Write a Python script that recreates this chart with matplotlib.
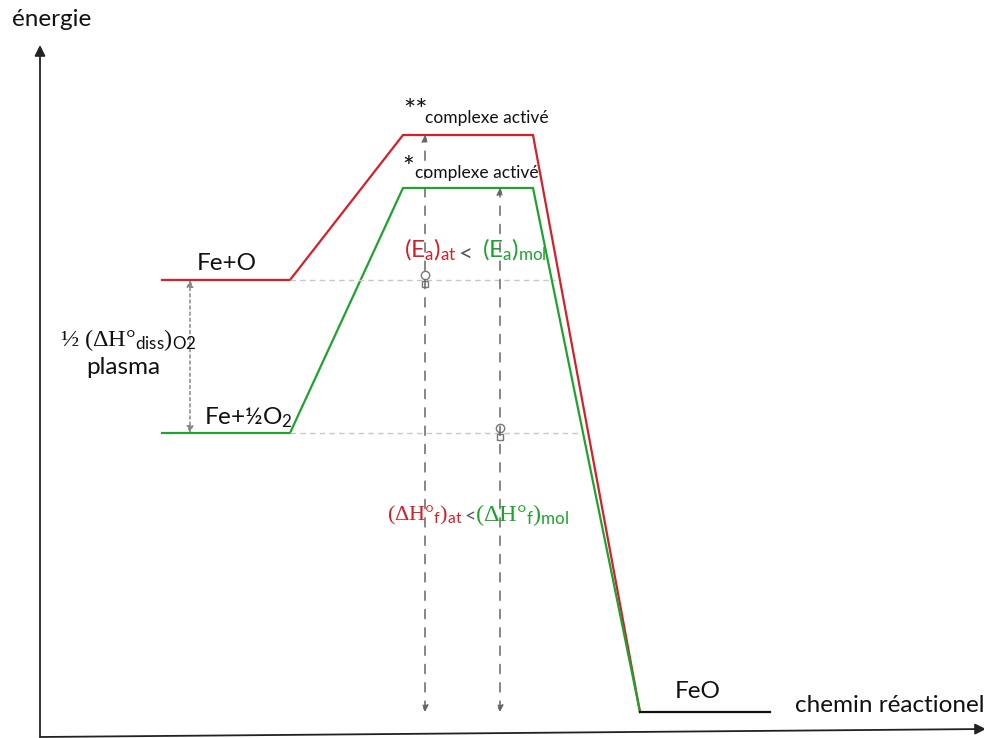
import matplotlib
matplotlib.use("Agg")
import matplotlib.pyplot as plt

plt.rcParams['font.family'] = ['Lato', 'DejaVu Sans']
plt.rcParams['mathtext.fontset'] = 'custom'
plt.rcParams['mathtext.rm'] = 'Liberation Serif'
plt.rcParams['mathtext.sf'] = 'Lato'
plt.rcParams['mathtext.it'] = 'Liberation Serif:italic'

# reaction coordinate of path points
path_x = [162, 290, 403, 533, 640]
# energies (arbitrary units, FeO = 0)
E_atomic = [432, 432, 577, 577, 0]      # Fe + O path (red)
E_molecular = [279, 279, 524, 524, 0]   # Fe + 1/2 O2 path (green)
product_x = [640, 770]
E_product = [0, 0]

RED = '#d4202a'
GREEN = '#1fa22e'
GRAY = '#666666'
LGRAY = '#c8c8c8'
DARK = '#111111'
FS = 17.5

fig = plt.figure(figsize=(9.84, 7.38), dpi=100)
ax = fig.add_axes([0, 0, 1, 1])
ax.set_xlim(0, 984)
ax.set_ylim(712 - 738, 712)
ax.axis('off')

# axes arrows
ax.annotate('', xy=(40, 712 - 45), xytext=(40, 712 - 737), annotation_clip=False,
            arrowprops=dict(arrowstyle='-|>', color='#222222', lw=1.3, mutation_scale=16, shrinkA=0, shrinkB=0))
ax.annotate('', xy=(986, 712 - 729), xytext=(40, 712 - 737), annotation_clip=False,
            arrowprops=dict(arrowstyle='-|>', color='#222222', lw=1.3, mutation_scale=16, shrinkA=0, shrinkB=0))

# paths
ax.plot(path_x, E_atomic, color=RED, lw=1.6, solid_joinstyle='miter')
ax.plot(path_x, E_molecular, color=GREEN, lw=1.6, solid_joinstyle='miter')
ax.plot(product_x, E_product, color=DARK, lw=1.6)

# light gray horizontal references
ax.plot([290, 555], [E_atomic[0], E_atomic[0]], color=LGRAY, lw=1, ls=(0, (4, 3)))
ax.plot([290, 580], [E_molecular[0], E_molecular[0]], color=LGRAY, lw=1, ls=(0, (4, 3)))

# dissociation double arrow
ax.annotate('', xy=(190, E_atomic[0]), xytext=(190, E_molecular[0]),
            arrowprops=dict(arrowstyle='<|-|>', color='#888888', lw=1.1, ls=(0, (2, 2)),
                            mutation_scale=10, shrinkA=0, shrinkB=0))

# vertical dashed double arrows (activation / formation)
for xv, top in [(425, E_atomic[2]), (500, E_molecular[2])]:
    ax.annotate('', xy=(xv, top), xytext=(xv, E_product[0]),
                arrowprops=dict(arrowstyle='<|-|>', color=GRAY, lw=1.1, ls=(0, (6, 6)),
                                mutation_scale=10, shrinkA=0, shrinkB=0))

# small markers at starting levels
for xv, lvl in [(425, E_atomic[0]), (500, E_molecular[0])]:
    ax.plot([xv], [lvl + 5], marker='o', ms=6, mfc='white', mec='#777777', mew=1)
    ax.plot([xv], [lvl - 4], marker='s', ms=5, mfc='white', mec='#777777', mew=1)

# labels
ax.text(12, 712 - 20, 'énergie', fontsize=FS, va='center', ha='left', color=DARK)
ax.text(795, 712 - 705, 'chemin réactionel', fontsize=FS, va='center', ha='left', color=DARK)
ax.text(675, 712 - 692, 'FeO', fontsize=FS, va='center', ha='left', color=DARK)
ax.text(197, 712 - 264, 'Fe+O', fontsize=FS, va='center', ha='left', color=DARK)
ax.text(204, 712 - 418, r'Fe+½O$_\mathsf{2}$', fontsize=FS, va='center', ha='left', color=DARK)

ax.text(60, 712 - 340, r'$\mathrm{½\ (\Delta H°}_{\mathsf{diss}}\mathrm{)}_{\mathsf{O2}}$',
        fontsize=FS, va='center', ha='left', color=DARK)
ax.text(123, 712 - 367, 'plasma', fontsize=FS, va='center', ha='center', color=DARK)

# activated complex labels
ax.text(403, 712 - 112, '**', fontsize=21, va='center', ha='left', color=DARK)
ax.text(425, 712 - 118, 'complexe activé', fontsize=12.5, va='center', ha='left', color=DARK)
ax.text(402, 712 - 169, '*', fontsize=20, va='center', ha='left', color=DARK)
ax.text(415, 712 - 173, 'complexe activé', fontsize=12.5, va='center', ha='left', color=DARK)

ax.text(404, 712 - 250, r'$\mathsf{(E_{a})_{at}}$', fontsize=FS, va='center', ha='left', color=RED)
ax.text(459, 712 - 255, '<', fontsize=FS, va='center', ha='left', color='#555555')
ax.text(482, 712 - 250, r'$\mathsf{(E_{a})_{mol}}$', fontsize=FS, va='center', ha='left', color=GREEN)

ax.text(387, 712 - 515, r'$\mathrm{(\Delta H°}_{\mathsf{f}}\mathrm{)}_{\mathsf{at}}$', fontsize=16,
        va='center', ha='left', color=RED)
ax.text(464, 712 - 517, '<', fontsize=14, va='center', ha='left', color='#555555')
ax.text(475, 712 - 515, r'$\mathrm{(\Delta H°}_{\mathsf{f}}\mathrm{)}_{\mathsf{mol}}$', fontsize=FS,
        va='center', ha='left', color=GREEN)

fig.savefig('out.png', dpi=100)
